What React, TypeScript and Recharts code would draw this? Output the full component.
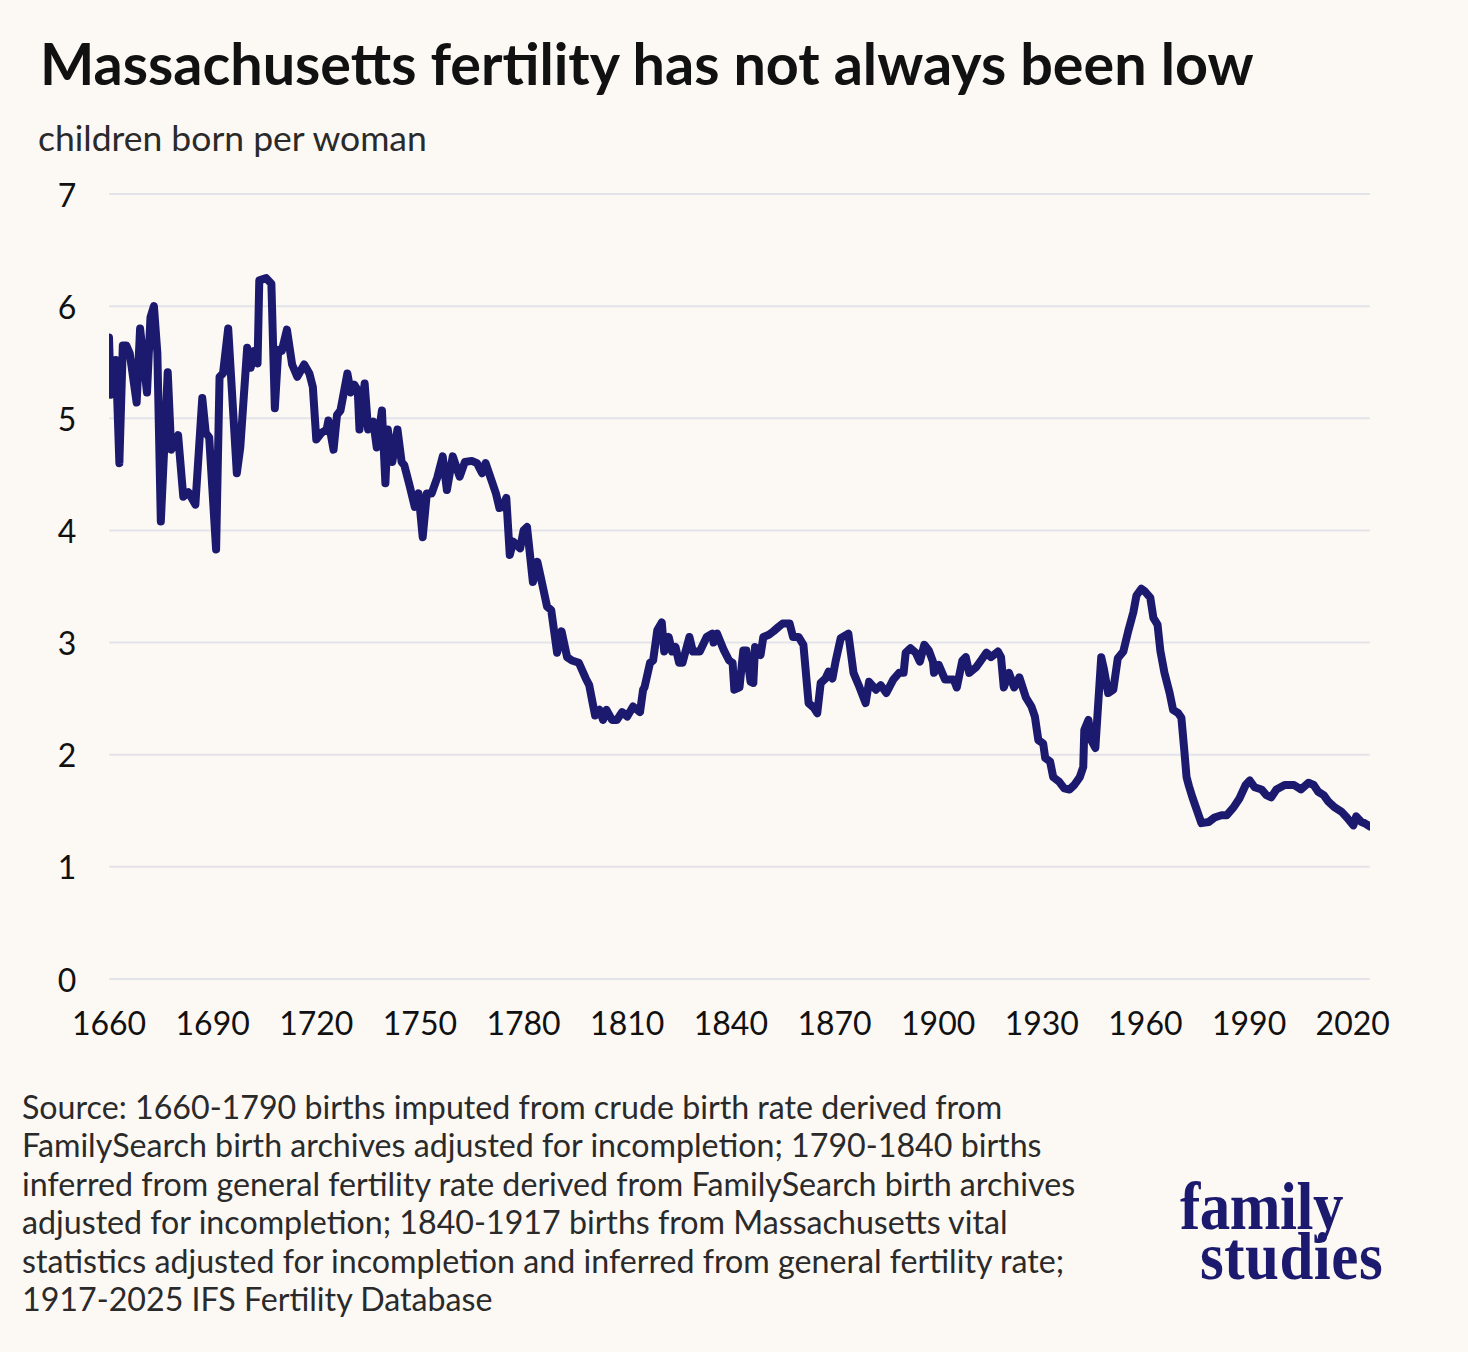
import { LineChart, Line, XAxis, YAxis, CartesianGrid } from 'recharts'

// Massachusetts total fertility
const YEARS = [
  1660, 1660.5, 1662, 1663, 1664, 1665, 1666, 1668, 1669, 1671, 1672, 1673, 1674, 1675, 1677, 1678, 1680, 1681.5, 1683, 1685,
  1687, 1688, 1689, 1691, 1692, 1693, 1694.5, 1697, 1698, 1700, 1701, 1702, 1703, 1703.5, 1705.5, 1707, 1708, 1709, 1710, 1711.5,
  1713, 1714.5, 1716.5, 1718, 1719, 1720, 1721.5, 1723, 1723.5, 1725, 1726, 1727, 1729, 1730, 1731, 1732, 1732.5, 1734, 1735, 1736.5,
  1737.5, 1739, 1740, 1740.7, 1742, 1743.5, 1744.7, 1745.5, 1747, 1748.5, 1749.6, 1750.8, 1752, 1753.4, 1755, 1756.6, 1757.8, 1759.5, 1761.5, 1763,
  1765, 1766.5, 1768, 1769, 1771, 1772, 1773, 1774, 1775, 1776, 1777, 1779, 1780, 1781, 1782.7, 1784, 1785, 1786.8, 1788, 1789.7,
  1791, 1792.6, 1794, 1796, 1798, 1799, 1800, 1800.7, 1802, 1803, 1804, 1805.6, 1807, 1808.5, 1810, 1811.7, 1813.7, 1814.6, 1815, 1816.6,
  1817.5, 1818.7, 1820, 1820.7, 1822, 1823, 1824, 1825, 1826, 1828, 1829, 1831, 1833, 1834.6, 1835, 1836, 1838, 1839.5, 1840.5, 1841,
  1842.5, 1843.6, 1844.5, 1845.7, 1846.5, 1847, 1848.6, 1849.4, 1851, 1852.3, 1853.8, 1855, 1857, 1858, 1859.6, 1861, 1862.5, 1864, 1865, 1866,
  1867.4, 1868.3, 1869.4, 1870.3, 1871.8, 1874, 1875.5, 1877, 1879, 1880, 1882, 1883.4, 1885, 1887, 1888.7, 1890, 1890.6, 1892, 1893.5, 1894.7,
  1896, 1897.3, 1898.5, 1898.8, 1900.2, 1902, 1904.5, 1905.4, 1907, 1908, 1909, 1911, 1912.4, 1914, 1915.3, 1917.3, 1918.2, 1919, 1920.5, 1922,
  1923.5, 1925.4, 1927, 1928, 1929, 1930.4, 1931, 1932.4, 1933.3, 1935, 1936.5, 1938, 1939.4, 1941, 1942, 1942.3, 1943.5, 1944.3, 1945.5, 1947.2,
  1948, 1949.2, 1950.7, 1952, 1953.6, 1955, 1956.5, 1957.4, 1958.8, 1959.7, 1961.4, 1962.3, 1963.5, 1964.3, 1965.5, 1967, 1968, 1969.5, 1970.4, 1971.3,
  1971.9, 1972.6, 1973.6, 1976.2, 1978.3, 1980, 1982, 1983.5, 1985.5, 1987.2, 1989, 1990.2, 1991.6, 1993.6, 1995, 1996.4, 1997.9, 2000.3, 2003, 2005,
  2007.2, 2008.7, 2010, 2011.6, 2013, 2014.8, 2016.8, 2018.3, 2020.2, 2021, 2022.5, 2023.4, 2025,
]

const TFR = [
  5.72, 5.21, 5.52, 4.6, 5.65, 5.65, 5.58, 5.14, 5.8, 5.23, 5.9, 6.0, 5.58, 4.08, 5.41, 4.72, 4.85, 4.3, 4.34, 4.23,
  5.18, 4.87, 4.83, 3.83, 5.37, 5.4, 5.8, 4.51, 4.74, 5.63, 5.45, 5.6, 5.49, 6.23, 6.25, 6.2, 5.09, 5.61, 5.6, 5.79,
  5.48, 5.37, 5.48, 5.4, 5.28, 4.81, 4.87, 4.9, 4.98, 4.72, 5.03, 5.07, 5.4, 5.23, 5.3, 5.25, 4.9, 5.31, 4.9, 4.97,
  4.74, 5.07, 4.42, 4.9, 4.61, 4.9, 4.61, 4.58, 4.4, 4.21, 4.33, 3.94, 4.33, 4.33, 4.47, 4.66, 4.36, 4.66, 4.48, 4.61,
  4.62, 4.6, 4.51, 4.6, 4.42, 4.33, 4.2, 4.21, 4.29, 3.78, 3.9, 3.84, 4.0, 4.03, 3.54, 3.72, 3.58, 3.32, 3.29, 2.91,
  3.1, 2.87, 2.84, 2.82, 2.68, 2.62, 2.46, 2.35, 2.4, 2.31, 2.4, 2.31, 2.31, 2.38, 2.34, 2.43, 2.38, 2.58, 2.6, 2.82,
  2.84, 3.11, 3.18, 2.92, 3.05, 2.92, 2.96, 2.82, 2.82, 3.05, 2.92, 2.92, 3.05, 3.08, 3.0, 3.08, 2.93, 2.84, 2.82, 2.58,
  2.6, 2.93, 2.93, 2.65, 2.64, 2.96, 2.89, 3.05, 3.07, 3.1, 3.14, 3.17, 3.17, 3.05, 3.05, 2.98, 2.46, 2.42, 2.37, 2.64,
  2.68, 2.74, 2.68, 2.83, 3.04, 3.08, 2.73, 2.62, 2.46, 2.65, 2.58, 2.62, 2.55, 2.67, 2.73, 2.73, 2.91, 2.95, 2.91, 2.83,
  2.98, 2.93, 2.83, 2.73, 2.8, 2.67, 2.67, 2.6, 2.84, 2.87, 2.73, 2.78, 2.84, 2.91, 2.87, 2.92, 2.87, 2.6, 2.73, 2.6,
  2.69, 2.51, 2.43, 2.34, 2.13, 2.1, 1.97, 1.94, 1.8, 1.76, 1.7, 1.69, 1.73, 1.8, 1.89, 2.22, 2.31, 2.13, 2.06, 2.87,
  2.76, 2.55, 2.58, 2.86, 2.92, 3.1, 3.27, 3.42, 3.48, 3.46, 3.4, 3.22, 3.16, 2.93, 2.73, 2.55, 2.4, 2.37, 2.33, 2.02,
  1.8, 1.72, 1.62, 1.39, 1.4, 1.44, 1.46, 1.46, 1.53, 1.61, 1.73, 1.77, 1.71, 1.69, 1.64, 1.62, 1.69, 1.73, 1.73, 1.69,
  1.75, 1.73, 1.67, 1.64, 1.58, 1.53, 1.49, 1.44, 1.37, 1.45, 1.4, 1.39, 1.36,
]

const X_TICKS = [1660, 1690, 1720, 1750, 1780, 1810, 1840, 1870, 1900, 1930, 1960, 1990, 2020]
const Y_TICKS = [0, 1, 2, 3, 4, 5, 6, 7]

const SOURCE_LINES = [
  'Source: 1660-1790 births imputed from crude birth rate derived from',
  'FamilySearch birth archives adjusted for incompletion; 1790-1840 births',
  'inferred from general fertility rate derived from FamilySearch birth archives',
  'adjusted for incompletion; 1840-1917 births from Massachusetts vital',
  'statistics adjusted for incompletion and inferred from general fertility rate;',
  '1917-2025 IFS Fertility Database',
]

const data = YEARS.map((year, i) => ({ year, tfr: TFR[i] }))

const BG = '#fcf8f4'
const NAVY = '#1c1a6e'
const FONT = 'Lato, "Open Sans", sans-serif'
const SERIF = '"Liberation Serif", "DejaVu Serif", serif'

function XTick(props: any) {
  const { x, y, payload } = props
  return (
    <text x={x} y={y + 43} textAnchor="middle" dominantBaseline="central" fontFamily={FONT} fontSize={32} fill="#111">
      {payload.value}
    </text>
  )
}

function YTick(props: any) {
  const { y, payload } = props
  return (
    <text x={67} y={y} textAnchor="middle" dominantBaseline="central" fontFamily={FONT} fontSize={32} fill="#111">
      {payload.value}
    </text>
  )
}

export default function App() {
  return (
    <div style={{ position: 'absolute', top: 0, left: 0, width: 1468, height: 1352, background: BG, overflow: 'hidden' }}>
      <div style={{ position: 'absolute', top: 0, left: 0 }}>
        <LineChart width={1468} height={1060} data={data} margin={{ top: 194, right: 98, bottom: 21, left: 9 }}>
          <CartesianGrid vertical={false} stroke="#e3e3ea" strokeWidth={2} />
          <XAxis
            dataKey="year"
            type="number"
            domain={[1660, 2025]}
            ticks={X_TICKS}
            axisLine={false}
            tickLine={false}
            tickSize={0}
            tickMargin={0}
            height={60}
            tick={<XTick />}
            allowDataOverflow
          />
          <YAxis
            type="number"
            domain={[0, 7]}
            ticks={Y_TICKS}
            axisLine={false}
            tickLine={false}
            width={100}
            tick={<YTick />}
          />
          <Line
            type="linear"
            dataKey="tfr"
            stroke={NAVY}
            strokeWidth={8}
            strokeLinejoin="round"
            strokeLinecap="round"
            dot={false}
            activeDot={false}
            isAnimationActive={false}
          />
        </LineChart>
      </div>
      <svg width={1468} height={1352} style={{ position: 'absolute', top: 0, left: 0, pointerEvents: 'none' }}>
        <text x={40} y={85} fontFamily={FONT} fontWeight={700} fontSize={57.5} fill="#111">
          Massachusetts fertility has not always been low
        </text>
        <text x={38} y={151} fontFamily={FONT} fontSize={35.5} fill="#2a2a2a">
          children born per woman
        </text>
        {SOURCE_LINES.map((line, i) => (
          <text key={i} x={22} y={1119 + i * 38.4} fontFamily={FONT} fontSize={32.2} fill="#2a2a2a">
            {line}
          </text>
        ))}
        {/* logo: one text block, two lines */}
        <g transform="translate(0 1229) scale(1 1.1)">
          <text y={0} fontFamily={SERIF} fontWeight={700} fontSize={61} fill={NAVY}>
            <tspan x={1180} y={0} letterSpacing={-0.5}>family</tspan>
            <tspan x={1200} y={45.5} letterSpacing={0.5}>studies</tspan>
          </text>
        </g>
      </svg>
    </div>
  )
}
